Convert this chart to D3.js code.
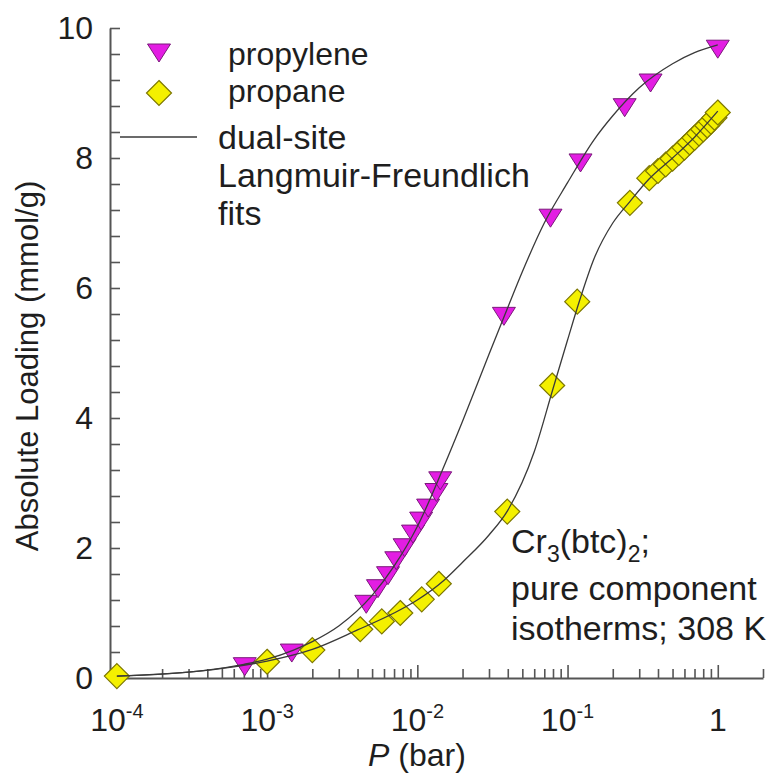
<!DOCTYPE html>
<html>
<head>
<meta charset="utf-8">
<script src="https://cdn.jsdelivr.net/npm/d3@7"></script>
<style>
  html, body { margin: 0; padding: 0; background: #fff; }
  svg { display: block; }
  text { font-family: "Liberation Sans", Arial, sans-serif; fill: #1e1e1e; }
</style>
</head>
<body>
<svg id="chart" width="776" height="778"></svg>
<script>
// ---------- data ----------
const propyleneP = [7.1e-4, 1.46e-3, 4.57e-3, 5.47e-3, 6.38e-3, 7.24e-3, 8.23e-3, 9.36e-3, 1.06e-2, 1.18e-2, 1.34e-2, 1.42e-2, 0.0377, 0.077, 0.122, 0.24, 0.357, 1.0];
const propyleneQ = [0.22, 0.43, 1.18, 1.42, 1.62, 1.85, 2.05, 2.26, 2.46, 2.66, 2.90, 3.08, 5.61, 7.12, 7.97, 8.82, 9.20, 9.72];

const propaneP = [1.0e-4, 1.0e-3, 2.0e-3, 4.17e-3, 5.8e-3, 7.7e-3, 1.07e-2, 1.39e-2, 0.0397, 0.079, 0.116, 0.26, 0.35, 0.40, 0.45, 0.50, 0.55, 0.60, 0.65, 0.70, 0.75, 0.80, 0.85, 0.90, 0.95, 1.0];
const propaneQ = [0.03, 0.25, 0.43, 0.75, 0.87, 1.00, 1.21, 1.45, 2.56, 4.50, 5.79, 7.31, 7.69, 7.80, 7.90, 7.99, 8.08, 8.16, 8.24, 8.31, 8.38, 8.44, 8.50, 8.56, 8.62, 8.70];

// fitted curves (dual-site Langmuir-Freundlich)
const fitPropyleneP = [1e-4, 2e-4, 4e-4, 7e-4, 1e-3, 1.5e-3, 2e-3, 3e-3, 5e-3, 7e-3, 1e-2, 1.5e-2, 2e-2, 3e-2, 4e-2, 5e-2, 7e-2, 0.1, 0.15, 0.2, 0.3, 0.5, 0.7, 1.0];
const fitPropyleneQ = [0.03, 0.06, 0.12, 0.21, 0.29, 0.43, 0.56, 0.80, 1.27, 1.72, 2.33, 3.25, 3.95, 4.98, 5.70, 6.25, 7.00, 7.62, 8.28, 8.65, 9.08, 9.45, 9.62, 9.74];

const fitPropaneP = [1e-4, 3e-4, 6e-4, 1e-3, 2e-3, 4e-3, 7e-3, 1e-2, 1.5e-2, 2e-2, 3e-2, 4e-2, 6e-2, 8e-2, 0.1, 0.12, 0.15, 0.2, 0.26, 0.35, 0.5, 0.7, 1.0];
const fitPropaneQ = [0.03, 0.09, 0.17, 0.26, 0.44, 0.74, 1.00, 1.20, 1.50, 1.78, 2.20, 2.58, 3.48, 4.45, 5.20, 5.80, 6.45, 7.00, 7.33, 7.68, 8.00, 8.32, 8.72];

const xMajorTicks = [1e-4, 1e-3, 1e-2, 1e-1, 1];
const xTickBase = ["10", "10", "10", "10", "1"];
const xTickExp = ["-4", "-3", "-2", "-1", ""];
const yMajorTicks = [0, 2, 4, 6, 8, 10];
const yTickLabels = ["0", "2", "4", "6", "8", "10"];
const seriesNames = ["propylene", "propane"];
const fitLegendLines = ["dual-site", "Langmuir-Freundlich", "fits"];
const noteLines = ["pure component", "isotherms; 308 K"];

// ---------- layout ----------
const svg = d3.select("#chart");
const x = d3.scaleLog().domain([9e-5, 2]).range([110, 763]);
const y = d3.scaleLinear().domain([0, 10]).range([678, 28]);

const axisColor = "#555";
const magentaFill = "#e31de3", magentaStroke = "#7a1a7a";
const yellowFill = "#f4f000", yellowStroke = "#7d7700";
const triPath = "M-11.5,-6L11.5,-6L0,12Z";
const diaPath = "M0,-12.5L12.5,0L0,12.5L-12.5,0Z";

// minor ticks for the log axis
const xMinorTicks = [];
for (let e = -4; e <= 0; e++) {
  for (let m = 2; m <= 9; m++) {
    const v = m * Math.pow(10, e);
    if (v <= 2.0001) xMinorTicks.push(v);
  }
}
const yMinorTicks = d3.range(0, 26).map(i => Math.round(i * 4) / 10).filter(v => yMajorTicks.indexOf(v) < 0);

// x axis
const gx = svg.append("g").attr("transform", `translate(0,${y(0)})`);
gx.call(d3.axisBottom(x).tickValues(xMajorTicks).tickSizeInner(-13).tickSizeOuter(0).tickFormat(""));
const gxm = svg.append("g").attr("transform", `translate(0,${y(0)})`);
gxm.call(d3.axisBottom(x).tickValues(xMinorTicks).tickSizeInner(-9).tickSizeOuter(0).tickFormat(""));
gxm.select(".domain").remove();

// y axis
const gy = svg.append("g").attr("transform", `translate(${x.range()[0]},0)`);
gy.call(d3.axisLeft(y).tickValues(yMajorTicks).tickSizeInner(-10).tickSizeOuter(0).tickPadding(17).tickFormat((d, i) => yTickLabels[i]));
const gym = svg.append("g").attr("transform", `translate(${x.range()[0]},0)`);
gym.call(d3.axisLeft(y).tickValues(yMinorTicks).tickSizeInner(-10).tickSizeOuter(0).tickFormat(""));
gym.select(".domain").remove();

[gx, gxm, gy, gym].forEach(g => {
  g.selectAll("line").attr("stroke", axisColor).attr("stroke-width", 1.6);
  g.selectAll(".domain").attr("stroke", axisColor).attr("stroke-width", 2);
});
gy.selectAll("text").attr("font-size", 32).attr("fill", "#1e1e1e")
  .style("font-family", '"Liberation Sans", Arial, sans-serif');

// x tick labels with superscripts
const xl = svg.append("g").selectAll("text").data(xMajorTicks).join("text")
  .attr("x", d => x(d)).attr("y", 731).attr("text-anchor", "middle").attr("font-size", 32);
xl.append("tspan").text((d, i) => xTickBase[i]);
xl.append("tspan").attr("font-size", 20).attr("dy", -13).text((d, i) => xTickExp[i]);

// axis titles
const xt = svg.append("text").attr("x", 417).attr("y", 766).attr("text-anchor", "middle").attr("font-size", 32);
xt.append("tspan").attr("font-style", "italic").text("P");
xt.append("tspan").text(" (bar)");

svg.append("text").attr("transform", "translate(38,366) rotate(-90)")
  .attr("text-anchor", "middle").attr("font-size", 31).text("Absolute Loading (mmol/g)");

// markers
const toPts = (P, Q) => P.map((p, i) => [p, Q[i]]);
svg.append("g").selectAll("path").data(toPts(propyleneP, propyleneQ)).join("path")
  .attr("d", triPath).attr("transform", d => `translate(${x(d[0])},${y(d[1])})`)
  .attr("fill", magentaFill).attr("stroke", magentaStroke).attr("stroke-width", 1);
svg.append("g").selectAll("path").data(toPts(propaneP, propaneQ)).join("path")
  .attr("d", diaPath).attr("transform", d => `translate(${x(d[0])},${y(d[1])})`)
  .attr("fill", yellowFill).attr("stroke", yellowStroke).attr("stroke-width", 1.2);

// fit curves (on top of markers)
const line = d3.line().x(d => x(d[0])).y(d => y(d[1])).curve(d3.curveMonotoneX);
[[fitPropyleneP, fitPropyleneQ], [fitPropaneP, fitPropaneQ]].forEach(([P, Q]) => {
  svg.append("path").datum(toPts(P, Q)).attr("d", line)
    .attr("fill", "none").attr("stroke", "#3a3a3a").attr("stroke-width", 1.3);
});

// legend
svg.append("path").attr("d", triPath).attr("transform", "translate(159,50)")
  .attr("fill", magentaFill).attr("stroke", magentaStroke);
svg.append("path").attr("d", diaPath).attr("transform", "translate(159,93)")
  .attr("fill", yellowFill).attr("stroke", yellowStroke).attr("stroke-width", 1.2);
svg.append("text").attr("x", 228).attr("y", 65).attr("font-size", 32).text(seriesNames[0]);
svg.append("text").attr("x", 228).attr("y", 102).attr("font-size", 32).text(seriesNames[1]);
svg.append("line").attr("x1", 120).attr("x2", 197).attr("y1", 137).attr("y2", 137)
  .attr("stroke", "#3a3a3a").attr("stroke-width", 1.6);
svg.append("g").selectAll("text").data(fitLegendLines).join("text")
  .attr("x", 218).attr("y", (d, i) => 149 + i * 38).attr("font-size", 34).text(d => d);

// annotation
const cr = svg.append("text").attr("x", 511).attr("y", 553).attr("font-size", 34);
cr.append("tspan").text("Cr");
cr.append("tspan").attr("font-size", 23).attr("dy", 9).text("3");
cr.append("tspan").attr("dy", -9).text("(btc)");
cr.append("tspan").attr("font-size", 23).attr("dy", 9).text("2");
cr.append("tspan").attr("dy", -9).text(";");
svg.append("g").selectAll("text").data(noteLines).join("text")
  .attr("x", 511).attr("y", (d, i) => 600 + i * 40).attr("font-size", 34).text(d => d);
</script>
</body>
</html>
